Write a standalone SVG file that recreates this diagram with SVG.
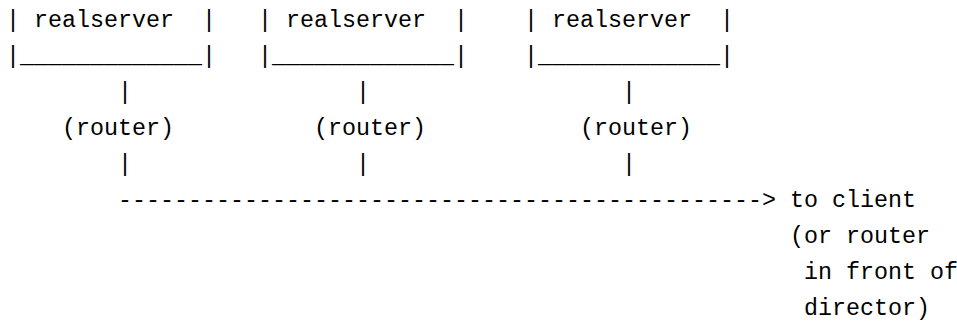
<svg xmlns="http://www.w3.org/2000/svg" width="957" height="324" viewBox="0 0 957 324">
<style>
text{font-family:"Liberation Mono","DejaVu Sans Mono",monospace;font-size:23.33px;fill:#000;white-space:pre}
</style>
<rect width="957" height="324" fill="#fff"/>
<g id="realserver1">
<text x="6" y="27" xml:space="preserve">| realserver  |</text>
<text x="6" y="63" xml:space="preserve">|_____________|</text>
</g>
<g id="realserver2">
<text x="258" y="27" xml:space="preserve">| realserver  |</text>
<text x="258" y="63" xml:space="preserve">|_____________|</text>
</g>
<g id="realserver3">
<text x="524" y="27" xml:space="preserve">| realserver  |</text>
<text x="524" y="63" xml:space="preserve">|_____________|</text>
</g>
<g id="router1"><text x="62" y="135">(router)</text></g>
<g id="router2"><text x="314" y="135">(router)</text></g>
<g id="router3"><text x="580" y="135">(router)</text></g>
<g id="client">
<text x="790" y="207">to client</text>
<text x="790" y="243">(or router</text>
<text x="804" y="279">in front of</text>
<text x="804" y="315">director)</text>
</g>
<g id="connectors">
<text x="118" y="99">|</text>
<text x="356" y="99">|</text>
<text x="622" y="99">|</text>
<text x="118" y="171">|</text>
<text x="356" y="171">|</text>
<text x="622" y="171">|</text>
<text x="118" y="207">----------------------------------------------&gt;</text>
</g>
</svg>
